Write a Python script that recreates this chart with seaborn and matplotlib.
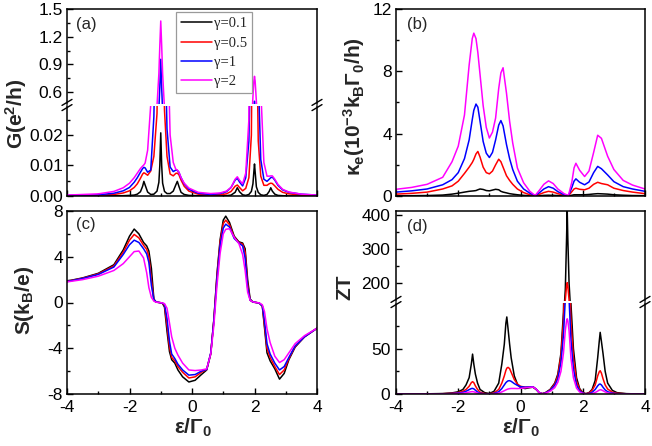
import numpy as np
import pandas as pd
import matplotlib
matplotlib.use("Agg")
import matplotlib.pyplot as plt
import seaborn as sns
from matplotlib.lines import Line2D

# ---------------- data ----------------
gammas = ["γ=0.1", "γ=0.5", "γ=1", "γ=2"]
colors = ["#000000", "#ff0000", "#0000ff", "#ff00ff"]

# (a) conductance G
eps_a = [-4.0, -3.0, -2.5, -2.2, -2.0, -1.85, -1.75, -1.65, -1.58, -1.54,
         -1.5, -1.42, -1.32, -1.22, -1.12, -1.06, -1.03, -1.0, -0.97, -0.94,
         -0.88, -0.8, -0.7, -0.6, -0.52, -0.47, -0.42, -0.35, -0.25, -0.1,
         0.2, 0.6, 0.9, 1.1, 1.25, 1.38, 1.45, 1.52, 1.62, 1.72,
         1.82, 1.9, 1.95, 1.98, 2.0, 2.02, 2.06, 2.12, 2.2, 2.3,
         2.4, 2.47, 2.52, 2.57, 2.65, 2.75, 2.9, 3.1, 3.5, 4.0]
G_01 = [0.0, 0.0, 0.0001, 0.0001, 0.0002, 0.0003, 0.0006, 0.0014, 0.0032, 0.0048,
        0.0036, 0.0013, 0.0005, 0.0006, 0.0016, 0.0045, 0.010, 0.0207, 0.010, 0.0042,
        0.0015, 0.0008, 0.0008, 0.0016, 0.0036, 0.0048, 0.0032, 0.0012, 0.0005, 0.0002,
        0.0001, 0.0, 0.0001, 0.0001, 0.0003, 0.0012, 0.0027, 0.0014, 0.0004, 0.0002,
        0.0005, 0.0015, 0.004, 0.008, 0.0105, 0.008, 0.003, 0.0012, 0.0004, 0.0002,
        0.0005, 0.0015, 0.0027, 0.0016, 0.0006, 0.0002, 0.0001, 0.0, 0.0, 0.0]
G_05 = [0.0001, 0.0002, 0.0005, 0.001, 0.0017, 0.0028, 0.004, 0.0058, 0.0072, 0.0076,
        0.0074, 0.0068, 0.0082, 0.013, 0.027, 0.07, 0.15, 0.3, 0.15, 0.06,
        0.028, 0.013, 0.0072, 0.0066, 0.0074, 0.0075, 0.007, 0.0052, 0.0032, 0.0016,
        0.0006, 0.0003, 0.0004, 0.0007, 0.0015, 0.0032, 0.0036, 0.0028, 0.0017, 0.0025,
        0.006, 0.02, 0.08, 0.25, 0.4, 0.25, 0.06, 0.018, 0.0065, 0.0035,
        0.0035, 0.004, 0.0042, 0.0041, 0.0033, 0.0022, 0.0012, 0.0007, 0.0003, 0.0001]
G_1 = [0.0002, 0.0004, 0.0009, 0.0017, 0.0028, 0.0045, 0.006, 0.0078, 0.009, 0.0094,
       0.0092, 0.0078, 0.0085, 0.026, 0.08, 0.42, 0.65, 0.955, 0.65, 0.38,
       0.06, 0.022, 0.0095, 0.008, 0.0085, 0.0084, 0.0078, 0.006, 0.004, 0.0022,
       0.0009, 0.0005, 0.0008, 0.0014, 0.0028, 0.0052, 0.0058, 0.0046, 0.0033, 0.006,
       0.018, 0.06, 0.2, 0.38, 0.5, 0.38, 0.15, 0.04, 0.012, 0.0055,
       0.0048, 0.0055, 0.006, 0.0062, 0.0052, 0.0035, 0.002, 0.0012, 0.0006, 0.0003]
G_2 = [0.0003, 0.0007, 0.0015, 0.0027, 0.0042, 0.006, 0.0075, 0.009, 0.0098, 0.0102,
       0.0108, 0.015, 0.03, 0.09, 0.45, 0.8, 1.1, 1.37, 1.1, 0.8,
       0.42, 0.06, 0.02, 0.011, 0.0088, 0.0085, 0.0078, 0.006, 0.0042, 0.0026,
       0.0012, 0.0008, 0.001, 0.0016, 0.0028, 0.0055, 0.0063, 0.0052, 0.004, 0.0075,
       0.025, 0.2, 0.55, 0.72, 0.77, 0.72, 0.5, 0.15, 0.035, 0.011,
       0.0065, 0.0065, 0.0066, 0.0066, 0.0055, 0.0038, 0.0022, 0.0013, 0.0006, 0.0003]

# (b) electronic thermal conductance kappa_e
eps_b = [-4.0, -3.5, -3.0, -2.5, -2.2, -2.0, -1.8, -1.65, -1.55, -1.5,
         -1.43, -1.37, -1.3, -1.2, -1.1, -1.0, -0.9, -0.8, -0.7, -0.63,
         -0.56, -0.45, -0.35, -0.25, -0.1, 0.1, 0.3, 0.47, 0.6, 0.75,
         0.9, 1.05, 1.2, 1.4, 1.54, 1.65, 1.72, 1.78, 1.9, 2.06,
         2.2, 2.35, 2.48, 2.6, 2.8, 3.0, 3.3, 3.6, 4.0]
K_01 = [0.01, 0.02, 0.03, 0.06, 0.12, 0.18, 0.25, 0.3, 0.32, 0.33,
        0.35, 0.4, 0.45, 0.42, 0.35, 0.33, 0.38, 0.43, 0.4, 0.3,
        0.25, 0.2, 0.15, 0.12, 0.08, 0.04, 0.02, 0.0, 0.02, 0.04,
        0.05, 0.04, 0.03, 0.01, 0.0, 0.05, 0.08, 0.08, 0.08, 0.08,
        0.1, 0.13, 0.15, 0.14, 0.12, 0.08, 0.05, 0.03, 0.02]
K_05 = [0.12, 0.17, 0.25, 0.45, 0.65, 0.95, 1.45, 1.85, 2.15, 2.35,
        2.7, 2.86, 2.5, 1.85, 1.5, 1.42, 1.6, 2.0, 2.36, 2.2,
        1.85, 1.3, 1.0, 0.75, 0.45, 0.22, 0.08, 0.01, 0.1, 0.22,
        0.3, 0.25, 0.15, 0.04, 0.01, 0.28, 0.45, 0.5, 0.43, 0.4,
        0.5, 0.75, 0.88, 0.8, 0.72, 0.5, 0.35, 0.25, 0.15]
K_1 = [0.25, 0.33, 0.45, 0.72, 1.05, 1.5, 2.4, 3.6, 4.9, 5.5,
       5.9, 5.7, 4.8, 3.5, 2.75, 2.47, 2.8, 3.6, 4.55, 4.84,
       4.5, 3.3, 2.4, 1.7, 0.95, 0.45, 0.18, 0.02, 0.2, 0.45,
       0.6, 0.5, 0.28, 0.08, 0.02, 0.55, 0.95, 1.1, 0.88, 0.72,
       0.9, 1.5, 1.9, 1.75, 1.35, 0.92, 0.6, 0.45, 0.3]
K_2 = [0.43, 0.55, 0.75, 1.2, 2.2, 3.2, 5.2, 8.4, 10.1, 10.45,
       10.1, 9.2, 7.8, 5.8, 4.4, 3.72, 4.1, 5.0, 6.9, 7.9,
       8.23, 6.6, 4.8, 3.4, 1.8, 0.85, 0.3, 0.03, 0.35, 0.75,
       0.97, 0.8, 0.45, 0.15, 0.03, 0.9, 1.8, 2.1, 1.65, 1.25,
       1.6, 2.8, 3.9, 3.7, 2.55, 1.7, 1.0, 0.7, 0.45]

# (c) thermopower S
eps_c = [-4.0, -3.5, -3.0, -2.5, -2.2, -2.0, -1.85, -1.7, -1.55, -1.45,
         -1.38, -1.3, -1.22, -1.15, -1.05, -0.95, -0.88, -0.8, -0.72, -0.65,
         -0.55, -0.45, -0.3, -0.1, 0.1, 0.3, 0.47, 0.6, 0.7, 0.8,
         0.9, 1.0, 1.08, 1.2, 1.35, 1.5, 1.62, 1.7, 1.78, 1.86,
         1.95, 2.05, 2.15, 2.25, 2.32, 2.4, 2.5, 2.65, 2.8, 2.95,
         3.1, 3.3, 3.6, 4.0]
S_01 = [1.87, 2.15, 2.55, 3.3, 4.6, 5.8, 6.42, 6.0, 5.25, 4.95,
        4.5, 3.0, 0.3, 0.05, 0.0, -0.05, -0.4, -2.5, -4.3, -5.0,
        -5.3, -5.9, -6.5, -6.95, -6.8, -6.3, -5.9, -4.5, -1.5, 2.5,
        5.5, 7.2, 7.55, 7.0, 5.8, 5.3, 5.2, 4.7, 2.0, 0.3,
        0.05, 0.0, -0.05, -0.3, -2.2, -4.4, -5.1, -5.8, -6.7, -6.2,
        -5.0, -3.9, -3.0, -2.25]
S_05 = [1.85, 2.12, 2.5, 3.2, 4.4, 5.45, 5.95, 5.65, 5.0, 4.65,
        4.0, 2.0, 0.2, 0.03, 0.0, -0.05, -0.25, -2.0, -3.9, -4.8,
        -5.1, -5.6, -6.1, -6.6, -6.5, -6.1, -5.85, -4.45, -1.5, 2.4,
        5.3, 6.9, 7.2, 6.8, 5.7, 5.25, 5.1, 4.4, 1.6, 0.2,
        0.03, 0.0, -0.05, -0.3, -2.0, -4.0, -4.8, -5.6, -6.3, -5.9,
        -4.9, -3.85, -3.0, -2.25]
S_1 = [1.83, 2.1, 2.45, 3.1, 4.2, 5.05, 5.45, 5.25, 4.7, 4.25,
       3.5, 1.5, 0.25, 0.05, 0.0, -0.05, -0.15, -1.4, -3.4, -4.5,
       -4.9, -5.4, -5.9, -6.35, -6.3, -6.0, -5.85, -4.4, -1.6, 2.1,
       5.0, 6.5, 6.85, 6.6, 5.6, 5.2, 4.95, 3.9, 1.3, 0.2,
       0.04, 0.0, -0.05, -0.3, -1.6, -3.6, -4.5, -5.3, -5.9, -5.6,
       -4.8, -3.8, -3.0, -2.25]
S_2 = [1.8, 2.0, 2.3, 2.8, 3.4, 4.0, 4.45, 4.5, 3.9, 2.6,
       1.3, 0.45, 0.12, 0.03, 0.0, -0.03, -0.1, -0.5, -1.8, -3.0,
       -4.0, -4.6, -5.3, -5.9, -5.95, -5.9, -5.8, -4.5, -2.0, 1.5,
       4.3, 6.0, 6.4, 6.45, 5.7, 5.15, 4.2, 2.8, 0.9, 0.2,
       0.05, 0.0, -0.03, -0.2, -0.8, -2.3, -3.5, -4.7, -5.25, -5.0,
       -4.4, -3.6, -2.9, -2.25]

# (d) figure of merit ZT
eps_d = [-4.0, -3.0, -2.5, -2.2, -2.0, -1.85, -1.75, -1.65, -1.58, -1.54,
         -1.5, -1.45, -1.38, -1.3, -1.15, -1.0, -0.85, -0.7, -0.6, -0.52,
         -0.47, -0.44, -0.4, -0.35, -0.3, -0.2, -0.1, 0.0, 0.15, 0.3,
         0.4, 0.5, 0.6, 0.7, 0.8, 0.95, 1.1, 1.2, 1.3, 1.38,
         1.44, 1.48, 1.5, 1.52, 1.56, 1.62, 1.7, 1.8, 1.9, 2.0,
         2.1, 2.2, 2.3, 2.4, 2.48, 2.53, 2.56, 2.6, 2.65, 2.72,
         2.8, 2.95, 3.1, 3.4, 3.7, 4.0]
Z_01 = [0.0, 0.2, 0.5, 1.2, 2.5, 5, 10, 18, 33, 44,
        33, 22, 12, 5, 1.5, 0.5, 3, 12, 33, 55,
        78, 85, 72, 55, 40, 20, 11, 7, 6, 7,
        7.5, 5, 1.5, 0.3, 1.5, 5, 12, 22, 45, 90,
        180, 330, 416, 330, 200, 100, 50, 18, 6, 1.5,
        0.3, 1.5, 5, 15, 40, 58, 68, 58, 45, 25,
        12, 4, 1.5, 0.4, 0.1, 0.0]
Z_05 = [0.0, 0.1, 0.3, 0.8, 1.6, 3, 5, 8.5, 12.5, 13.6,
        12.5, 9, 5, 2, 0.5, 0.2, 1.2, 5, 12, 20,
        26, 28.5, 29.4, 28, 24, 16, 11, 8.5, 7.5, 7.8,
        8, 5.5, 1.5, 0.3, 1.2, 4.5, 11, 20, 42, 80,
        150, 190, 200, 190, 150, 80, 40, 14, 5, 1.2,
        0.3, 1.2, 4, 10, 20, 24.5, 25.7, 23, 17, 10,
        5.5, 2, 0.8, 0.2, 0.05, 0.0]
Z_1 = [0.0, 0.05, 0.2, 0.5, 1.0, 1.8, 3.0, 4.8, 6.0, 6.2,
       5.7, 4.2, 2.2, 0.9, 0.25, 0.1, 0.6, 2.5, 6, 10,
       12.5, 13.5, 14.5, 14.7, 14, 11.5, 9.5, 8, 7.5, 7.8,
       8, 5.5, 1.5, 0.3, 1.0, 4, 9.5, 17, 35, 65,
       105, 125, 130, 125, 105, 60, 28, 10, 3.5, 1.0,
       0.2, 0.6, 1.8, 5, 9, 10.8, 11, 10, 7.5, 4.5,
       2.5, 1, 0.4, 0.1, 0.0, 0.0]
Z_2 = [0.0, 0.05, 0.1, 0.3, 0.5, 0.9, 1.4, 2.1, 2.5, 2.6,
       2.4, 1.8, 1.0, 0.4, 0.1, 0.05, 0.25, 1.0, 2.3, 3.6,
       4.5, 5.0, 5.5, 5.9, 6.1, 6.1, 6.0, 6.2, 6.8, 7.4,
       7.7, 5.5, 1.5, 0.3, 0.8, 3, 7, 13, 25, 45,
       70, 81, 83, 81, 70, 40, 18, 6.5, 2.2, 0.6,
       0.1, 0.2, 0.6, 1.6, 3.2, 4.3, 4.7, 4.5, 3.6, 2.3,
       1.2, 0.5, 0.2, 0.05, 0.0, 0.0]

# ---------------- style ----------------
sns.set_style("ticks")
plt.rcParams.update({
    "font.family": ["Liberation Sans", "DejaVu Sans"],
    "axes.unicode_minus": False,
    "mathtext.default": "regular",
    "axes.edgecolor": "black",
    "xtick.color": "black",
    "ytick.color": "black",
})

W, H = 652, 446
fig = plt.figure(figsize=(W / 100, H / 100), dpi=100)


def add_ax(l, t, r, b):
    return fig.add_axes([l / W, 1 - b / H, (r - l) / W, (b - t) / H])


def draw(ax, x, ys):
    n = len(x)
    df = pd.DataFrame({
        "eps": np.tile(np.asarray(x, float), 4),
        "val": np.concatenate([np.asarray(y, float) for y in ys]),
        "g": np.repeat(gammas, n),
    })
    sns.lineplot(data=df, x="eps", y="val", hue="g", hue_order=gammas,
                 palette=colors, ax=ax, legend=False, linewidth=1.1,
                 estimator=None, sort=False)


def style(ax, xlabels=True, xticks=True):
    ax.set_xlim(-4, 4)
    ax.set_xticks([-4, -2, 0, 2, 4])
    ax.set_xticks([-3, -1, 1, 3], minor=True)
    ax.tick_params(which="both", direction="in", top=False, right=False,
                   width=1.0, labelsize=12.5, colors="black")
    ax.tick_params(which="major", length=4, pad=3)
    ax.tick_params(axis="x", which="major", pad=4.5)
    ax.tick_params(which="minor", length=2.2)
    if not xlabels:
        ax.tick_params(axis="x", labelbottom=False)
    if not xticks:
        ax.tick_params(axis="x", which="both", bottom=False, labelbottom=False)
    ax.set_xlabel("")
    ax.set_ylabel("")
    for s in ax.spines.values():
        s.set_linewidth(1.1)
        s.set_color("black")


def brk(xp, yp):
    for off in (-2.6, 2.6):
        fig.add_artist(Line2D([(xp - 5) / W, (xp + 5) / W],
                              [1 - (yp + off + 3) / H, 1 - (yp + off - 3) / H],
                              color="black", lw=1.0, transform=fig.transFigure))


# ---------------- panel (a) ----------------
ys_a = [G_01, G_05, G_1, G_2]
ax_a_top = add_ax(67, 9, 317, 104)
ax_a_bot = add_ax(67, 106, 317, 196)
draw(ax_a_top, eps_a, ys_a)
draw(ax_a_bot, eps_a, ys_a)
style(ax_a_top, xticks=False)
style(ax_a_bot, xlabels=False)
ax_a_top.set_ylim(0.47, 1.5)
ax_a_top.set_yticks([0.6, 0.9, 1.2, 1.5])
ax_a_top.set_yticklabels(["0.6", "0.9", "1.2", "1.5"])
ax_a_top.set_yticks([0.75, 1.05, 1.35], minor=True)
ax_a_top.spines["bottom"].set_visible(False)
ax_a_bot.set_ylim(0, 0.0295)
ax_a_bot.set_yticks([0, 0.01, 0.02])
ax_a_bot.set_yticklabels(["0.00", "0.01", "0.02"])
ax_a_bot.set_yticks([0.005, 0.015, 0.025], minor=True)
ax_a_bot.spines["top"].set_visible(False)
brk(67, 105)
brk(317, 105)

handles = [Line2D([], [], color=c, lw=1.1) for c in colors]
leg = ax_a_top.legend(handles, gammas, loc="upper left",
                      bbox_to_anchor=(176 / W, 1 - 12 / H),
                      bbox_transform=fig.transFigure,
                      prop={"family": "Liberation Serif", "size": 10.5},
                      handlelength=2.1, handletextpad=0.15, labelspacing=0.42,
                      borderpad=0.35, borderaxespad=0, frameon=True,
                      fancybox=False, framealpha=1, edgecolor="#9a9a9a")
leg.get_frame().set_linewidth(0.9)

# ---------------- panel (b) ----------------
ax_b = add_ax(396, 9, 645, 196)
draw(ax_b, eps_b, [K_01, K_05, K_1, K_2])
style(ax_b, xlabels=False)
ax_b.set_ylim(0, 12)
ax_b.set_yticks([0, 4, 8, 12])
ax_b.set_yticks([2, 6, 10], minor=True)

# ---------------- panel (c) ----------------
ax_c = add_ax(67, 211, 317, 394)
draw(ax_c, eps_c, [S_01, S_05, S_1, S_2])
style(ax_c)
ax_c.set_ylim(-8, 8)
ax_c.set_yticks([-8, -4, 0, 4, 8])
ax_c.set_yticks([-6, -2, 2, 6], minor=True)

# ---------------- panel (d) ----------------
ys_d = [Z_01, Z_05, Z_1, Z_2]
ax_d_top = add_ax(396, 211, 645, 301)
ax_d_bot = add_ax(396, 303, 645, 394)
draw(ax_d_top, eps_d, ys_d)
draw(ax_d_bot, eps_d, ys_d)
style(ax_d_top, xticks=False)
style(ax_d_bot)
ax_d_bot.tick_params(axis="y", which="major", pad=4)
ax_d_top.tick_params(axis="y", which="major", pad=4)
ax_d_top.set_ylim(146, 411)
ax_d_top.set_yticks([200, 300, 400])
ax_d_top.set_yticks([250, 350], minor=True)
ax_d_top.spines["bottom"].set_visible(False)
ax_d_bot.set_ylim(0, 100.4)
ax_d_bot.set_yticks([0, 50])
ax_d_bot.set_yticks([25, 75], minor=True)
ax_d_bot.spines["top"].set_visible(False)
brk(396, 302)
brk(645, 302)

# ---------------- texts ----------------
def ftext(xp, yp, s, **kw):
    fig.text(xp / W, 1 - yp / H, s, **kw)


lab = dict(fontsize=15, fontweight="bold", ha="center", va="center")
ftext(16, 114, "G(e$^2$/h)", rotation=90, **lab)
ftext(354, 107, "κ$_e$(10$^{-3}$k$_B$Γ$_0$/h)", rotation=90, **lab)
ftext(25, 300, "S(k$_B$/e)", rotation=90, **lab)
ftext(345, 287, "ZT", rotation=90, **lab)
ftext(193, 428, "ε/Γ$_0$", **lab)
ftext(521, 428, "ε/Γ$_0$", **lab)

pl = dict(fontsize=12, ha="left", va="center")
ftext(76, 25, "(a)", **pl)
ftext(407, 25, "(b)", **pl)
ftext(76, 224, "(c)", **pl)
ftext(407, 226, "(d)", **pl)

fig.savefig("out.png", dpi=100)
